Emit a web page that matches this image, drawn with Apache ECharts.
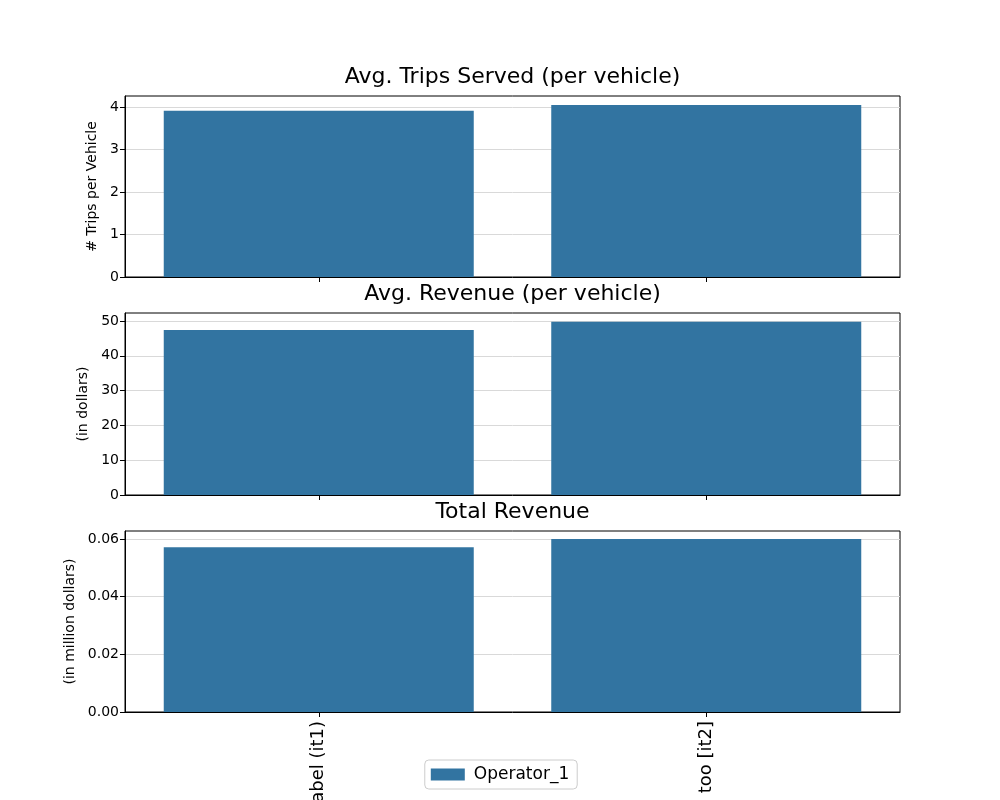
<!DOCTYPE html>
<html>
<head>
<meta charset="utf-8">
<script src="https://cdn.jsdelivr.net/npm/echarts@6/dist/echarts.min.js"></script>
<style>html,body{margin:0;padding:0;background:#fff}#c{width:1000px;height:800px}</style>
</head>
<body>
<div id="c"></div>
<script>
const categories = ["A very long label (it1)", "Another label too [it2]"];
const seriesName = "Operator_1";
const tripsPerVehicle = [3.91, 4.05];
const revenuePerVehicle = [47.4, 49.8];
const totalRevenue = [0.0572, 0.0600];
const titles = ["Avg. Trips Served (per vehicle)", "Avg. Revenue (per vehicle)", "Total Revenue"];
const yNames = ["# Trips per Vehicle", "(in dollars)", "(in million dollars)"];
const yTicks = [[0, 1, 2, 3, 4], [0, 10, 20, 30, 40, 50], [0, 0.02, 0.04, 0.06]];

const FONT = "DejaVu Sans";
const color = "#3274a1";
const grids = [
  {left: 125, width: 775, top: 96, height: 181},
  {left: 125, width: 775, top: 313, height: 182},
  {left: 125, width: 775, top: 531, height: 181}
];
const yMax = [4.26, 52.3, 0.0628];
const yInterval = [1, 10, 0.02];
const nameGaps = [26, 34, 48];
const data = [tripsPerVehicle, revenuePerVehicle, totalRevenue];

const option = {
  animation: false,
  textStyle: {fontFamily: FONT},
  title: grids.map((g, i) => ({
    text: titles[i], left: 512.5, top: g.top - 30, textAlign: 'center', padding: 0,
    textStyle: {fontFamily: FONT, fontSize: 22, fontWeight: 'normal', color: '#000'}
  })),
  grid: grids.map(g => Object.assign({show: true, borderColor: '#000', borderWidth: 1, backgroundColor: 'transparent', containLabel: false, outerBoundsMode: 'none'}, g)),
  legend: {
    data: [seriesName], left: 'center', top: 760,
    itemWidth: 34, itemHeight: 12, itemGap: 10,
    padding: [6, 8, 6, 6], borderColor: '#ccc', borderWidth: 1, borderRadius: 4,
    backgroundColor: '#fff',
    textStyle: {fontFamily: FONT, fontSize: 17, color: '#000', padding: [0, 0, 0, 4]},
    icon: 'rect'
  },
  xAxis: grids.map((g, i) => ({
    type: 'category', gridIndex: i, data: categories,
    axisLine: {show: true, lineStyle: {color: '#000'}},
    axisTick: {show: true, alignWithLabel: true, length: 5, lineStyle: {color: '#000'}},
    axisLabel: i === 2 ? {show: true, rotate: 90, fontSize: 18, color: '#000', fontFamily: FONT, margin: 9, interval: 0} : {show: false},
    splitLine: {show: false}
  })),
  yAxis: grids.map((g, i) => ({
    type: 'value', gridIndex: i, min: 0, max: yMax[i], interval: yInterval[i],
    name: yNames[i], nameLocation: 'middle', nameGap: nameGaps[i], nameRotate: 90,
    nameTextStyle: {fontFamily: FONT, fontSize: 14, color: '#000'},
    axisLine: {show: true, lineStyle: {color: '#000'}},
    axisTick: {show: true, length: 5, lineStyle: {color: '#000'}, customValues: yTicks[i]},
    axisLabel: {
      fontSize: 14, color: '#000', fontFamily: FONT, margin: 6, customValues: yTicks[i],
      formatter: v => i === 2 ? v.toFixed(2) : String(Math.round(v))
    },
    splitLine: {show: true, lineStyle: {color: '#d9d9d9', width: 1}}
  })),
  series: data.map((d, i) => ({
    type: 'bar', name: seriesName, xAxisIndex: i, yAxisIndex: i, data: d,
    barWidth: '80%', itemStyle: {color: color, borderWidth: 0}
  }))
};
echarts.init(document.getElementById('c')).setOption(option);
</script>
</body>
</html>
